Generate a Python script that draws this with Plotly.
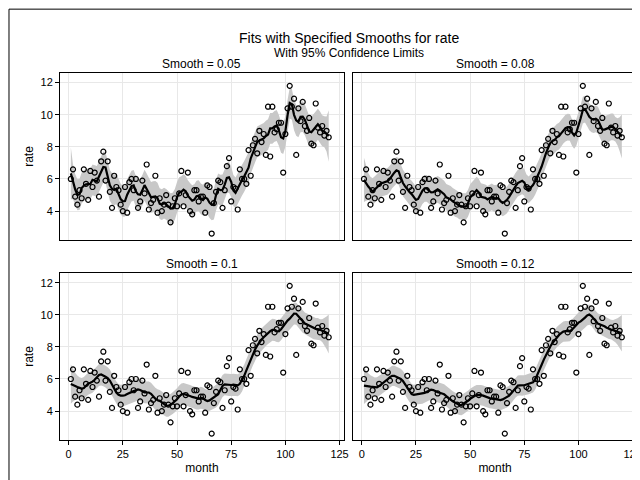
import numpy as np
import plotly.graph_objects as go

month = list(range(1, 121))
rate = [6.0, 6.6, 4.9, 4.4, 5.3, 4.8, 6.6, 5.7, 4.7, 6.5,
        5.5, 6.4, 5.9, 4.9, 7.1, 7.7, 5.9, 7.1, 5.2, 4.2,
        6.2, 5.5, 5.3, 4.4, 4.0, 5.5, 3.9, 5.8, 6.0, 5.3,
        6.0, 4.2, 4.6, 5.9, 5.1, 6.9, 4.1, 4.5, 4.7, 6.2,
        3.9, 4.8, 4.0, 4.4, 5.0, 4.4, 3.3, 4.3, 4.8, 4.3,
        5.1, 6.5, 4.3, 5.0, 6.4, 4.0, 3.8, 5.3, 5.3, 4.6,
        4.9, 4.9, 3.9, 5.6, 5.5, 2.6, 4.5, 5.2, 5.9, 5.8,
        4.2, 5.3, 6.8, 7.3, 4.6, 5.5, 5.4, 4.1, 6.6, 6.0,
        6.0, 5.7, 7.8, 6.2, 8.1, 8.5, 7.6, 9.0, 8.3, 8.8,
        7.5, 10.5, 7.4, 10.5, 8.9, 9.1, 9.5, 9.5, 6.4, 8.8,
        10.4, 11.8, 10.5, 11.0, 7.5, 10.4, 9.6, 10.8, 9.3, 9.0,
        9.8, 8.2, 8.1, 10.7, 9.2, 8.9, 9.3, 8.7, 9.0, 8.6]
smooths = [0.05, 0.08, 0.1, 0.12]


def loess(x, y, span):
    # local linear fit with tricube weights, plus 95% limits from the hat matrix
    x = np.asarray(x, float)
    y = np.asarray(y, float)
    n = len(x)
    q = max(int(np.floor(span * n)), 3)
    L = np.zeros((n, n))
    for i in range(n):
        d = np.abs(x - x[i])
        h = np.sort(d)[q - 1] * 1.0001
        w = np.clip(1 - (d / h) ** 3, 0, None) ** 3
        X = np.column_stack([np.ones(n), x - x[i]])
        W = np.diag(w)
        A = np.linalg.pinv(X.T @ W @ X) @ X.T @ W
        L[i] = A[0]
    fit = L @ y
    rss = np.sum((y - fit) ** 2)
    dof = n - 2 * np.trace(L) + np.trace(L.T @ L)
    sigma = np.sqrt(rss / dof)
    se = sigma * np.sqrt(np.sum(L ** 2, axis=1))
    return fit, fit - 1.98 * se, fit + 1.98 * se


fig = go.Figure()
doms_x = [[0, 0.492], [0.508, 1]]
doms_y = [[0.545, 1], [0, 0.455]]

for k, s in enumerate(smooths):
    r, c = divmod(k, 2)
    ax = "" if k == 0 else str(k + 1)
    fit, lo, hi = loess(month, rate, s)
    fig.add_trace(go.Scatter(x=month + month[::-1], y=list(hi) + list(lo[::-1]),
                             fill="toself", fillcolor="#c8c8c8", line=dict(width=0),
                             mode="lines", showlegend=False, hoverinfo="skip",
                             xaxis="x" + ax, yaxis="y" + ax))
    fig.add_trace(go.Scatter(x=month, y=rate, mode="markers", showlegend=False,
                             marker=dict(symbol="circle-open", color="black", size=5,
                                         line=dict(width=1.2)),
                             xaxis="x" + ax, yaxis="y" + ax))
    fig.add_trace(go.Scatter(x=month, y=fit, mode="lines", showlegend=False,
                             line=dict(color="black", width=2.2),
                             xaxis="x" + ax, yaxis="y" + ax))
    axis = dict(showline=True, mirror=True, linecolor="black", linewidth=1,
                gridcolor="#e8e8e8", zeroline=False, automargin=False,
                tickcolor="black", ticklen=4, tickfont=dict(size=11, color="black"))
    fig.layout["xaxis" + ax] = dict(axis, domain=doms_x[c], range=[-4, 127],
                                    tickvals=[0, 25, 50, 75, 100, 125],
                                    showticklabels=(r == 1),
                                    ticks="outside" if r == 1 else "",
                                    title=dict(text="month" if r == 1 else "",
                                               font=dict(size=12), standoff=4),
                                    anchor="y" + ax)
    fig.layout["yaxis" + ax] = dict(axis, domain=doms_y[r], range=[2.2, 12.6],
                                    tickvals=[4, 6, 8, 10, 12],
                                    showticklabels=(c == 0),
                                    ticks="outside" if c == 0 else "",
                                    title=dict(text="rate" if c == 0 else "",
                                               font=dict(size=12), standoff=4),
                                    anchor="x" + ax)
    fig.add_annotation(text="Smooth = %g" % s, xref="x%s domain" % ax,
                       yref="y%s domain" % ax, x=0.5, y=1.0, yanchor="bottom",
                       showarrow=False, font=dict(size=12, color="black"))

fig.add_annotation(text="Fits with Specified Smooths for rate", xref="paper", yref="paper",
                   x=0.5, y=1.123, showarrow=False, font=dict(size=14, color="black"))
fig.add_annotation(text="With 95% Confidence Limits", xref="paper", yref="paper",
                   x=0.5, y=1.079, showarrow=False, font=dict(size=12, color="black"))
fig.add_shape(type="rect", xref="paper", yref="paper", x0=-0.0884, x1=1.0173,
              y0=-0.128, y1=1.174, line=dict(color="black", width=1))

fig.update_layout(width=640, height=480, margin=dict(l=52, r=11, t=65, b=48, autoexpand=False),
                  plot_bgcolor="white", paper_bgcolor="white",
                  font=dict(family="Arial, Liberation Sans", color="black"))
fig.write_html("out.html")
